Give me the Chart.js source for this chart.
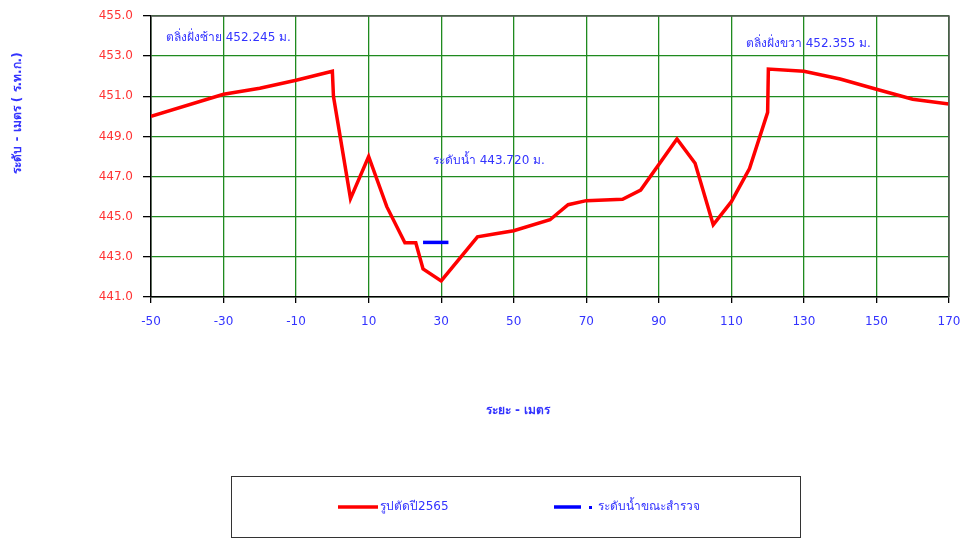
<!DOCTYPE html>
<html><head><meta charset="utf-8">
<script src="https://cdn.jsdelivr.net/npm/chart.js@4/dist/chart.umd.min.js"></script>
<style>html,body{margin:0;padding:0;background:#fff}#wrap{width:965px;height:541px;position:relative}</style>
</head><body><div id="wrap"><canvas id="c" width="965" height="541"></canvas></div>
<script>
// ---- data ----
const sectionDist = [-50, -30, -20, -10, 0, 0.3, 5, 10, 15, 20, 23, 25, 30, 40, 45, 50, 60, 65, 70, 80, 85, 95, 100, 105, 110, 115, 120, 120.2, 130, 140, 150, 160, 170];
const sectionElev = [450.0, 451.1, 451.4, 451.8, 452.245, 451.0, 445.9, 448.0, 445.5, 443.7, 443.7, 442.4, 441.8, 444.0, 444.15, 444.3, 444.85, 445.6, 445.8, 445.87, 446.33, 448.87, 447.66, 444.6, 445.75, 447.4, 450.2, 452.355, 452.25, 451.86, 451.35, 450.85, 450.62];
const waterDist = [25, 32];
const waterElev = [443.72, 443.72];
const seriesNames = ['รูปตัดปี2565', 'ระดับน้ำขณะสำรวจ'];
const xTickRange = [-50, 170, 20];
const yTickRange = [441, 455, 2];
const noteTexts = ['ตลิ่งฝั่งซ้าย 452.245 ม.', 'ตลิ่งฝั่งขวา 452.355 ม.', 'ระดับน้ำ 443.720 ม.'];
const noteAnchors = [[-45.9, 453.9], [114, 453.6], [27.7, 447.8]];
const xTitle = 'ระยะ - เมตร';
const yTitle = 'ระดับ - เมตร ( ร.ท.ก.)';

const FONT = "Tahoma, 'DejaVu Sans', 'Noto Sans', sans-serif";
const BLUE_TXT = '#3333ff';

const extras = {
  id: 'extras',
  afterDraw(chart) {
    const ctx = chart.ctx, a = chart.chartArea, xs = chart.scales.x, ys = chart.scales.y;
    ctx.save();
    // top/right frame
    ctx.strokeStyle = '#555'; ctx.lineWidth = 1.5;
    ctx.beginPath(); ctx.moveTo(a.left, a.top); ctx.lineTo(a.right, a.top); ctx.lineTo(a.right, a.bottom); ctx.stroke();
    // notes
    ctx.fillStyle = BLUE_TXT; ctx.font = '12px ' + FONT; ctx.textBaseline = 'middle'; ctx.textAlign = 'left';
    noteTexts.forEach((t, i) => ctx.fillText(t, xs.getPixelForValue(noteAnchors[i][0]), ys.getPixelForValue(noteAnchors[i][1])));
    // axis titles
    ctx.font = 'bold 12px ' + FONT; ctx.textAlign = 'center';
    ctx.fillText(xTitle, 518, 411);
    ctx.save(); ctx.translate(18, 113); ctx.rotate(-Math.PI / 2); ctx.fillText(yTitle, 0, 0); ctx.restore();
    // legend box
    ctx.strokeStyle = '#333'; ctx.lineWidth = 1;
    ctx.strokeRect(231.5, 476.5, 569, 61);
    const ds = chart.data.datasets;
    ctx.lineWidth = 3.5; ctx.lineCap = 'butt';
    ctx.strokeStyle = ds[0].borderColor; ctx.beginPath(); ctx.moveTo(338, 507); ctx.lineTo(378, 507); ctx.stroke();
    ctx.strokeStyle = ds[1].borderColor; ctx.beginPath(); ctx.moveTo(554, 507); ctx.lineTo(581, 507); ctx.stroke();
    ctx.fillStyle = ds[1].borderColor; ctx.fillRect(589, 506, 3, 3);
    ctx.fillStyle = BLUE_TXT; ctx.font = '12px ' + FONT; ctx.textAlign = 'left';
    ctx.fillText(ds[0].label, 380, 507);
    ctx.fillText(ds[1].label, 598, 507);
    ctx.restore();
  }
};

new Chart(document.getElementById('c'), {
  type: 'line',
  data: {
    datasets: [
      { label: seriesNames[0], data: sectionDist.map((x, i) => ({x, y: sectionElev[i]})), borderColor: '#ff0000', borderWidth: 3.5, pointRadius: 0, tension: 0, fill: false },
      { label: seriesNames[1], data: waterDist.map((x, i) => ({x, y: waterElev[i]})), borderColor: '#0000ff', borderWidth: 3.5, pointRadius: 0, tension: 0, fill: false }
    ]
  },
  options: {
    responsive: false, animation: false,
    layout: { padding: { left: 0, right: 16, top: 16, bottom: 0 } },
    plugins: { legend: { display: false }, tooltip: { enabled: false } },
    scales: {
      x: {
        type: 'linear', min: xTickRange[0], max: xTickRange[1],
        afterFit: s => { s.height = 244; s.paddingLeft = 0; s.paddingRight = 0; },
        afterBuildTicks: s => { const t = []; for (let v = xTickRange[0]; v <= xTickRange[1]; v += xTickRange[2]) t.push({value: v}); s.ticks = t; },
        ticks: { color: BLUE_TXT, font: { family: FONT, size: 12 }, padding: 12, maxRotation: 0, autoSkip: false },
        grid: { color: '#1f8a1f', lineWidth: 1.3, tickLength: 6, tickColor: '#000' },
        border: { display: true, color: '#000', width: 1.5 }
      },
      y: {
        type: 'linear', min: yTickRange[0], max: yTickRange[1],
        afterFit: s => { s.width = 151; s.paddingTop = 0; s.paddingBottom = 0; },
        afterBuildTicks: s => { const t = []; for (let v = yTickRange[0]; v <= yTickRange[1]; v += yTickRange[2]) t.push({value: v}); s.ticks = t; },
        ticks: { color: '#ff3333', font: { family: FONT, size: 12 }, padding: 10, callback: v => Number(v).toFixed(1) },
        grid: { color: '#1f8a1f', lineWidth: 1.3, tickLength: 8, tickColor: '#000' },
        border: { display: true, color: '#000', width: 1.5 }
      }
    }
  },
  plugins: [extras]
});
</script></body></html>
